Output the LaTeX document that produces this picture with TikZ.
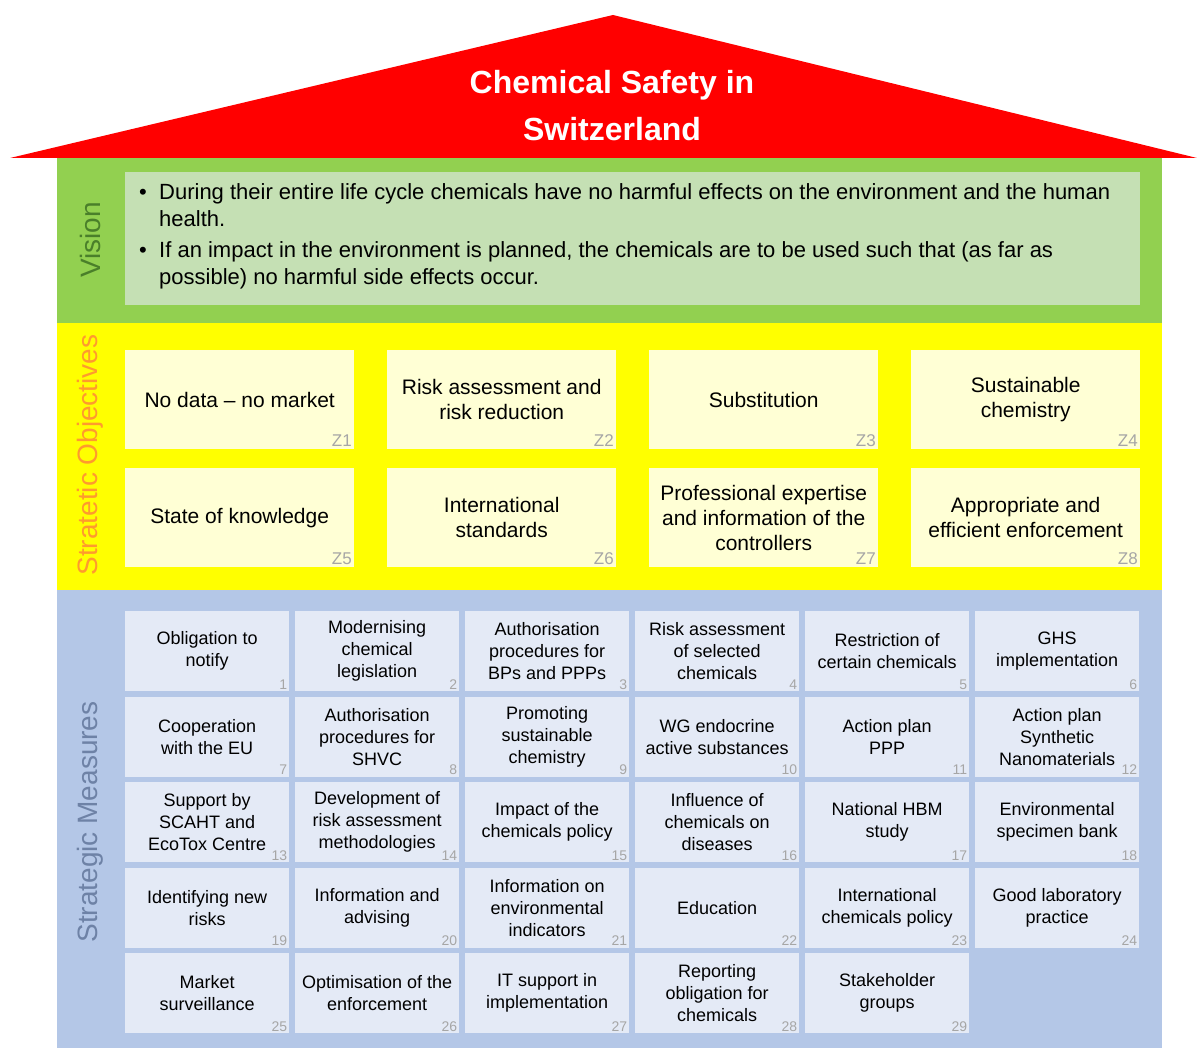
\documentclass[tikz,border=0pt]{standalone}
\usepackage{fontspec}
\setmainfont{Liberation Sans}
\usetikzlibrary{positioning}

\definecolor{roofred}{HTML}{FF0000}
\definecolor{visionband}{HTML}{92D050}
\definecolor{visionfill}{HTML}{C5E0B4}
\definecolor{visiontext}{HTML}{4A7F2A}
\definecolor{objband}{HTML}{FFFF00}
\definecolor{objfill}{HTML}{FFFFD5}
\definecolor{objtext}{HTML}{FF9A2E}
\definecolor{measband}{HTML}{B4C7E7}
\definecolor{measfill}{HTML}{E4EAF6}
\definecolor{meastext}{HTML}{6E82A6}
\definecolor{numgray}{HTML}{A6A6A6}

\tikzset{
  sidelabel/.style={rotate=90, font=\fontsize{28}{28}\selectfont, inner sep=0pt},
  objbox/.style={fill=objfill, minimum width=229pt, minimum height=99pt,
    inner sep=0pt, align=center, anchor=north west,
    font=\fontsize{21}{25}\selectfont},
  measbox/.style={fill=measfill, minimum width=164pt, minimum height=80pt,
    inner sep=0pt, align=center, anchor=north west,
    font=\fontsize{18}{22}\selectfont},
  zlabel/.style={anchor=south east, inner sep=2.5pt, text=numgray,
    font=\fontsize{17}{17}\selectfont},
  numlabel/.style={anchor=south east, inner sep=2pt, text=numgray,
    font=\fontsize{14}{14}\selectfont},
}

\begin{document}
\begin{tikzpicture}[x=1pt, y=-1pt]
  \useasboundingbox (0,0) rectangle (1197,1048);

  % roof
  \fill[roofred] (10,158) -- (613,15) -- (1197,158) -- cycle;
  \node[text=white, align=center, font=\fontsize{32}{47}\selectfont\bfseries]
    (title) at (612,106) {Chemical Safety in\\Switzerland};

  % vision
  \fill[visionband] (57,158) rectangle (1162,323);
  \fill[visionfill] (125,172) rectangle (1140,305);
  \node[sidelabel, text=visiontext] (vislbl) at (90,240) {Vision};
  \node[anchor=west, inner sep=0pt, font=\fontsize{22}{27}\selectfont]
    (vis) at (139,237) {%
    \begin{tabular}{@{}p{20pt}@{}l@{}}
      \textbullet & During their entire life cycle chemicals have no harmful effects on the environment and the human\\
      & health.\\[4pt]
      \textbullet & If an impact in the environment is planned, the chemicals are to be used such that (as far as\\
      & possible) no harmful side effects occur.
    \end{tabular}};

  % strategic objectives
  \fill[objband] (57,323) rectangle (1162,590);
  \node[sidelabel, text=objtext] (objlbl) at (90,455) {Stratetic Objectives};
  \foreach \txt [count=\i] in {%
      {No data -- no market}, {Risk assessment and\\risk reduction},
      {Substitution}, {Sustainable\\chemistry},
      {State of knowledge}, {International\\standards},
      {Professional expertise\\and information of the\\controllers},
      {Appropriate and\\efficient enforcement}}{%
    \pgfmathtruncatemacro\col{mod(\i-1,4)}
    \pgfmathtruncatemacro\row{(\i-1)/4}
    \node[objbox] (z\i) at ({125+262*\col},{350+118*\row}) {\txt};
    \node[zlabel] at (z\i.south east) {Z\i};
  }

  % strategic measures
  \fill[measband] (57,590) rectangle (1162,1048);
  \node[sidelabel, text=meastext] (measlbl) at (90,822) {Strategic Measures};
  \foreach \txt [count=\i] in {%
      {Obligation to\\notify}, {Modernising\\chemical\\legislation},
      {Authorisation\\procedures for\\BPs and PPPs},
      {Risk assessment\\of selected\\chemicals},
      {Restriction of\\certain chemicals}, {GHS\\implementation},
      {Cooperation\\with the EU}, {Authorisation\\procedures for\\SHVC},
      {Promoting\\sustainable\\chemistry}, {WG endocrine\\active substances},
      {Action plan\\PPP}, {Action plan\\Synthetic\\Nanomaterials},
      {Support by\\SCAHT and\\EcoTox Centre},
      {Development of\\risk assessment\\methodologies},
      {Impact of the\\chemicals policy}, {Influence of\\chemicals on\\diseases},
      {National HBM\\study}, {Environmental\\specimen bank},
      {Identifying new\\risks}, {Information and\\advising},
      {Information on\\environmental\\indicators}, {Education},
      {International\\chemicals policy}, {Good laboratory\\practice},
      {Market\\surveillance}, {Optimisation of the\\enforcement},
      {IT support in\\implementation}, {Reporting\\obligation for\\chemicals},
      {Stakeholder\\groups}}{%
    \pgfmathtruncatemacro\col{mod(\i-1,6)}
    \pgfmathtruncatemacro\row{(\i-1)/6}
    \node[measbox] (m\i) at ({125+170*\col},{611+85.5*\row}) {\txt};
    \node[numlabel] at (m\i.south east) {\i};
  }
\end{tikzpicture}
\end{document}
